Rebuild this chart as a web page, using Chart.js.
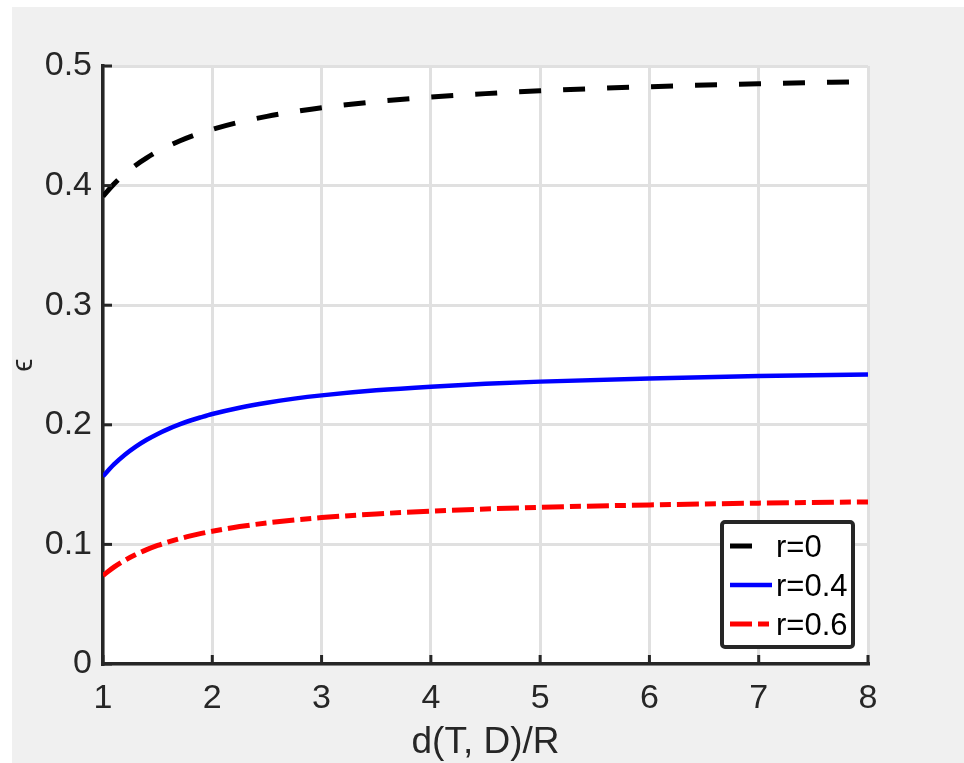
<!DOCTYPE html>
<html>
<head>
<meta charset="utf-8">
<script src="https://cdn.jsdelivr.net/npm/chart.js@4"></script>
<style>
html, body { margin: 0; padding: 0; background: #fff; }
#wrap { position: absolute; left: 12px; top: 7px; width: 952px; height: 756px; background: #f0f0f0; }
</style>
</head>
<body>
<div id="wrap"><canvas id="myChart" width="952" height="756"></canvas></div>
<script>
// data
const xValues = [1, 1.1, 1.2, 1.3, 1.4, 1.5, 1.6, 1.7, 1.8, 1.9, 2, 2.25, 2.5, 2.75, 3, 3.5, 4, 4.5, 5, 6, 7, 8];
const epsR0   = [0.391, 0.4013, 0.4099, 0.4171, 0.4232, 0.4286, 0.4332, 0.4373, 0.4409, 0.4441, 0.447,
                 0.4531, 0.4579, 0.4618, 0.4651, 0.4702, 0.474, 0.4769, 0.4793, 0.4827, 0.4852, 0.487];
const epsR04  = [0.157, 0.1669, 0.175, 0.1818, 0.1875, 0.1924, 0.1966, 0.2003, 0.2036, 0.2064, 0.209,
                 0.2143, 0.2185, 0.2219, 0.2246, 0.2288, 0.2319, 0.2343, 0.2361, 0.2388, 0.2407, 0.242];
const epsR06  = [0.074, 0.081, 0.0867, 0.0915, 0.0956, 0.0991, 0.1021, 0.1047, 0.1071, 0.1092, 0.111,
                 0.1149, 0.1179, 0.1204, 0.1224, 0.1255, 0.1278, 0.1296, 0.131, 0.133, 0.1345, 0.1355];
const seriesLabels = ["r=0", "r=0.4", "r=0.6"];
const xTitle = "d(T, D)/R";
const yTitle = "\u03F5";

const FONT = "'Liberation Sans', Arial, Helvetica, sans-serif";
const INK = "#262626";

function points(ys) {
    return xValues.map((x, i) => ({ x: x, y: ys[i] }));
}

function createDataSet(label, ys, color, width, dash) {
    return {
        label: label,
        data: points(ys),
        borderColor: color,
        backgroundColor: color,
        borderWidth: width,
        borderDash: dash,
        pointRadius: 0,
        fill: false,
        cubicInterpolationMode: 'monotone'
    }
}

let dataSetR0 = createDataSet(seriesLabels[0], epsR0, "#000000", 5, [22, 22]);
let dataSetR04 = createDataSet(seriesLabels[1], epsR04, "#0000ff", 4.5, []);
let dataSetR06 = createDataSet(seriesLabels[2], epsR06, "#ff0000", 5, [22, 6, 11, 6]);

// white plot area
const plotBg = {
    id: 'plotBg',
    beforeDraw(chart) {
        const a = chart.chartArea;
        chart.ctx.save();
        chart.ctx.fillStyle = "#ffffff";
        chart.ctx.fillRect(a.left, a.top, a.right - a.left, a.bottom - a.top);
        chart.ctx.restore();
    }
};

// matlab style inward ticks
const innerTicks = {
    id: 'innerTicks',
    afterDatasetsDraw(chart) {
        const { ctx, chartArea, scales } = chart;
        ctx.save();
        ctx.strokeStyle = INK;
        ctx.lineWidth = 3;
        scales.x.ticks.forEach(t => {
            const px = scales.x.getPixelForValue(t.value);
            ctx.beginPath();
            ctx.moveTo(px, chartArea.bottom);
            ctx.lineTo(px, chartArea.bottom - 9);
            ctx.stroke();
        });
        scales.y.ticks.forEach(t => {
            const py = scales.y.getPixelForValue(t.value);
            ctx.beginPath();
            ctx.moveTo(chartArea.left, py);
            ctx.lineTo(chartArea.left + 9, py);
            ctx.stroke();
        });
        ctx.restore();
    }
};

// boxed legend in the lower right
const boxLegend = {
    id: 'boxLegend',
    afterDraw(chart) {
        const ctx = chart.ctx;
        const bx = 710, by = 515, bw = 131, bh = 125;
        ctx.save();
        ctx.fillStyle = "#ffffff";
        ctx.strokeStyle = INK;
        ctx.lineWidth = 4;
        ctx.beginPath();
        ctx.roundRect(bx, by, bw, bh, 3);
        ctx.fill();
        ctx.stroke();
        ctx.font = "31px " + FONT;
        ctx.textBaseline = "middle";
        chart.data.datasets.forEach((ds, i) => {
            const yy = by + 24 + i * 39;
            ctx.strokeStyle = ds.borderColor;
            ctx.lineWidth = ds.borderWidth;
            ctx.setLineDash(ds.borderDash);
            ctx.beginPath();
            ctx.moveTo(bx + 8, yy);
            ctx.lineTo(bx + 50, yy);
            ctx.stroke();
            ctx.setLineDash([]);
            ctx.fillStyle = "#000000";
            ctx.fillText(ds.label, bx + 54, yy + 2);
        });
        ctx.restore();
    }
};

const ctx = document.getElementById('myChart');

let chart1 = new Chart(ctx, {
    type: 'line',
    data: {
        datasets: [dataSetR0, dataSetR04, dataSetR06]
    },
    plugins: [plotBg, innerTicks, boxLegend],
    options: {
        responsive: false,
        animation: false,
        layout: { padding: { top: 59, right: 96, left: 0, bottom: 0 } },
        plugins: {
            legend: { display: false },
            tooltip: { enabled: false }
        },
        scales: {
            x: {
                type: 'linear',
                min: 1,
                max: 8,
                ticks: { stepSize: 1, color: INK, font: { family: FONT, size: 34 }, padding: 14, maxRotation: 0 },
                grid: { color: "#e0e0e0", lineWidth: 3, drawTicks: false },
                border: { color: INK, width: 3.5 },
                title: { display: true, text: xTitle, color: INK, font: { family: FONT, size: 37, lineHeight: 1.1 }, padding: { top: 0, bottom: 0 } },
                afterFit(scale) { scale.height = 99; }
            },
            y: {
                type: 'linear',
                min: 0,
                max: 0.5,
                ticks: { stepSize: 0.1, color: INK, font: { family: FONT, size: 34 }, padding: 11 },
                grid: { color: "#e0e0e0", lineWidth: 3, drawTicks: false },
                border: { color: INK, width: 3.5 },
                title: { display: true, text: yTitle, color: INK, font: { family: FONT, size: 30, lineHeight: 0.8 }, padding: { top: 0, bottom: 0 } },
                afterFit(scale) { scale.width = 91; }
            }
        }
    }
})
</script>
</body>
</html>
